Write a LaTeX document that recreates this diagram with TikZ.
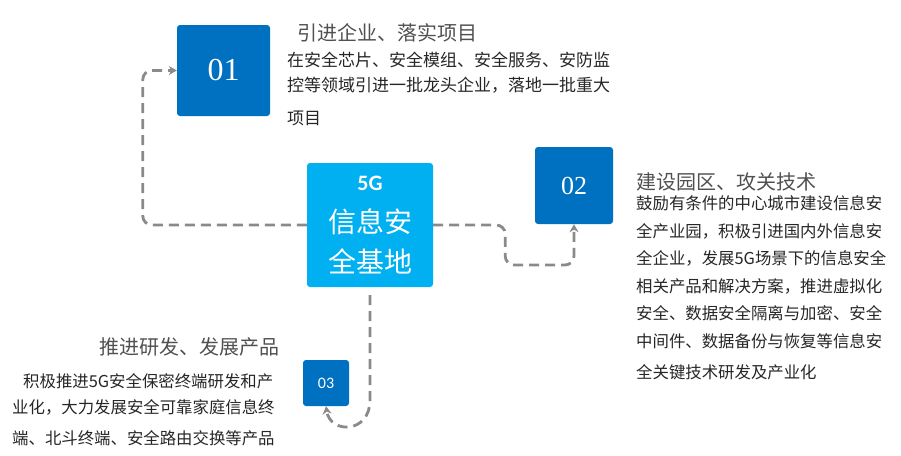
\documentclass[tikz,border=0pt]{standalone}
\usepackage{fontspec}
\usetikzlibrary{arrows.meta}
\newfontfamily\cjk{Noto Sans CJK SC}
\newfontfamily\numserif{Liberation Serif}
\newfontfamily\numsans{Carlito}
\definecolor{boxblue}{HTML}{0070C0}
\definecolor{skyblue}{HTML}{00B0F0}
\definecolor{linegray}{HTML}{8A8A8A}
\definecolor{titlegray}{HTML}{505050}
\definecolor{bodygray}{HTML}{262626}

\begin{document}
\begin{tikzpicture}[x=1pt,y=-1pt,
  numbox/.style={fill=boxblue,rounded corners=3pt,inner sep=0,text=white},
  title/.style={inner sep=0,text=titlegray,font=\cjk\fontsize{20}{24}\selectfont},
  body/.style={inner sep=0,align=left,text=bodygray,font=\cjk\fontsize{16}{26}\selectfont},
  link/.style={draw=linegray,line width=2.8pt,dash pattern=on 10pt off 6pt,rounded corners=9pt,-{Stealth[length=8pt,width=9pt]}}]
\useasboundingbox (0,0) rectangle (901,455);
\node[numbox,minimum width=93pt,minimum height=91pt,font=\numserif\fontsize{32}{32}\selectfont] (b1) at (223.5,70.5) {01};
\node[numbox,fill=skyblue,minimum width=126pt,minimum height=124pt,align=center,font=\cjk\fontsize{28}{40}\selectfont] (g) at (370,225)
  {\numsans\bfseries\fontsize{22}{24}\selectfont 5G\\[2pt]信息安\\全基地};
\node[numbox,minimum width=78pt,minimum height=77pt,font=\numserif\fontsize{26}{26}\selectfont] (b2) at (574,185.5) {02};
\node[numbox,minimum width=46pt,minimum height=46pt,font=\numsans\fontsize{16}{16}\selectfont] (b3) at (326,383) {03};

\node[title,anchor=base west] (t1) at (297,40) {引进企业、落实项目};
\node[body,anchor=base west,font=\cjk\fontsize{17}{25}\selectfont] (d1) at (287,124) {在安全芯片、安全模组、安全服务、安防监\\控等领域引进一批龙头企业，落地一批重大\\[8pt]项目};
\node[title,anchor=base west] (t2) at (636,189) {建设园区、攻关技术};
\node[body,anchor=base west,font=\cjk\fontsize{16.4}{27.5}\selectfont] (d2) at (636,378) {鼓励有条件的中心城市建设信息安\\全产业园，积极引进国内外信息安\\全企业，发展5G场景下的信息安全\\相关产品和解决方案，推进虚拟化\\安全、数据安全隔离与加密、安全\\中间件、数据备份与恢复等信息安\\[3.5pt]全关键技术研发及产业化};
\node[title,anchor=base east] (t3) at (280,354) {推进研发、发展产品};
\node[body,anchor=base west,font=\cjk\fontsize{16.4}{26}\selectfont] (d3) at (12,444) {\hspace{11pt}积极推进5G安全保密终端研发和产\\业化，大力发展安全可靠家庭信息终\\[5pt]端、北斗终端、安全路由交换等产品};

\draw[link] (g.west) -- ++(-164,0) |- (b1.west);
\draw[link] (g.east) -- ++(72,0) -- ++(0,40) -| (b2.south);
\draw[link,rounded corners=0pt] ([yshift=-8pt]g.south) -- (370,400) .. controls (370,434) and (330,434) .. (b3.south);
\end{tikzpicture}
\end{document}
